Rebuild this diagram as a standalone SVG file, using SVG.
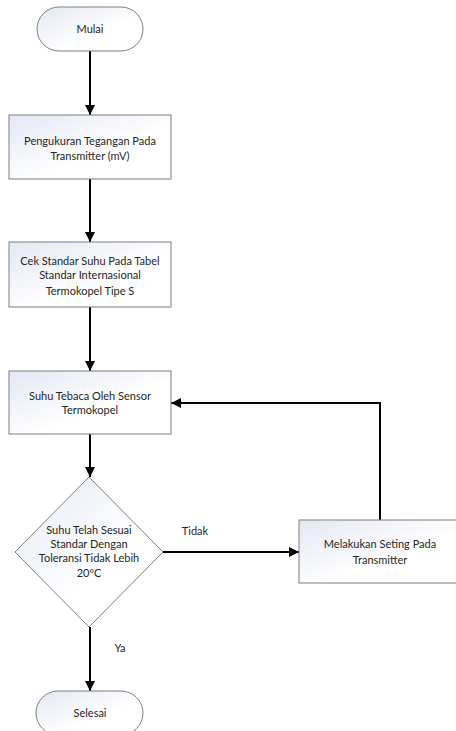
<svg xmlns="http://www.w3.org/2000/svg" width="456" height="731" viewBox="0 0 456 731">
<defs>
<linearGradient id="g" x1="0" y1="0" x2="1" y2="1">
<stop offset="0" stop-color="#e3e8f3"/>
<stop offset="0.6" stop-color="#ffffff"/>
</linearGradient>
<marker id="ah" viewBox="0 0 10 10" refX="10" refY="5" markerWidth="10" markerHeight="10" markerUnits="userSpaceOnUse" orient="auto">
<path d="M0,0 L10,5 L0,10 z" fill="#000"/>
</marker>
</defs>
<style>
.s{fill:url(#g);stroke:#7f7f7f;stroke-width:1}
.t{font-family:Lato,"Liberation Sans",sans-serif;font-size:11px;fill:#262626;text-anchor:middle}
.c{fill:none;stroke:#000;stroke-width:2}
</style>
<rect width="456" height="731" fill="#fff"/>
<g id="connectors">
<line class="c" x1="90" y1="51" x2="90" y2="115" marker-end="url(#ah)"/>
<line class="c" x1="90" y1="179" x2="90" y2="242" marker-end="url(#ah)"/>
<line class="c" x1="90" y1="307" x2="90" y2="371" marker-end="url(#ah)"/>
<line class="c" x1="90" y1="434" x2="90" y2="477" marker-end="url(#ah)"/>
<line class="c" x1="163" y1="552" x2="299" y2="552" marker-end="url(#ah)"/>
<polyline class="c" points="380,520 380,403 171,403" marker-end="url(#ah)"/>
<line class="c" x1="90" y1="627" x2="90" y2="691" marker-end="url(#ah)"/>
<text class="t" x="195" y="535">Tidak</text>
<text class="t" x="120" y="652">Ya</text>
</g>
<g id="mulai">
<rect class="s" x="37" y="7" width="106" height="44" rx="22"/>
<text class="t" x="90" y="33">Mulai</text>
</g>
<g id="pengukuran">
<rect class="s" x="9" y="115" width="162" height="64"/>
<text class="t" x="90" y="145">Pengukuran Tegangan Pada</text>
<text class="t" x="90" y="160">Transmitter (mV)</text>
</g>
<g id="cek">
<rect class="s" x="9" y="242" width="162" height="65"/>
<text class="t" x="90" y="265">Cek Standar Suhu Pada Tabel</text>
<text class="t" x="90" y="279">Standar Internasional</text>
<text class="t" x="90" y="295">Termokopel Tipe S</text>
</g>
<g id="suhu">
<rect class="s" x="9" y="371" width="162" height="63"/>
<text class="t" x="90" y="400">Suhu Tebaca Oleh Sensor</text>
<text class="t" x="90" y="414">Termokopel</text>
</g>
<g id="decision">
<polygon class="s" points="89,477 163,552 89,627 15,552"/>
<text class="t" x="89" y="534">Suhu Telah Sesuai</text>
<text class="t" x="89" y="548">Standar Dengan</text>
<text class="t" x="89" y="562">Toleransi Tidak Lebih</text>
<text class="t" x="89" y="577">20ºC</text>
</g>
<g id="setting">
<rect class="s" x="299" y="520" width="162" height="63"/>
<text class="t" x="380" y="548">Melakukan Seting Pada</text>
<text class="t" x="380" y="564">Transmitter</text>
</g>
<g id="selesai">
<rect class="s" x="36" y="691" width="107" height="44" rx="22"/>
<text class="t" x="90" y="717">Selesai</text>
</g>
</svg>
